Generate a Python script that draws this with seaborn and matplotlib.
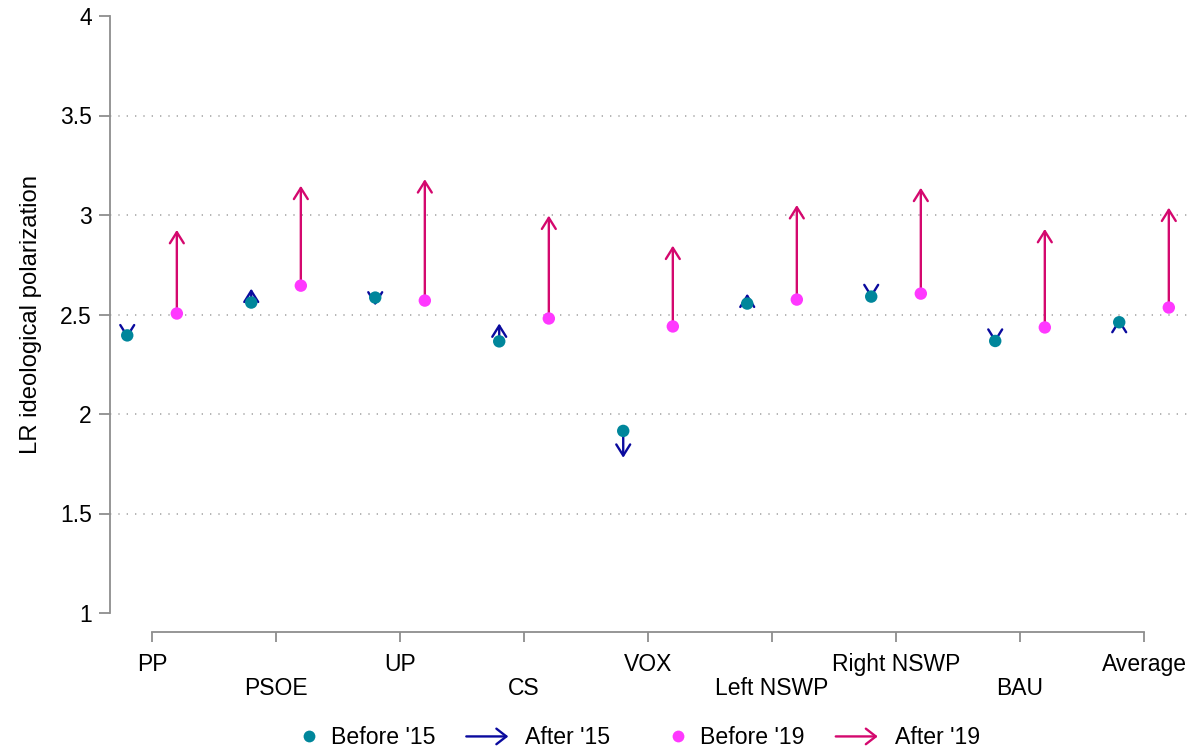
import matplotlib
matplotlib.use("Agg")
import matplotlib.pyplot as plt
import seaborn as sns
import numpy as np
import pandas as pd
from matplotlib.lines import Line2D
from matplotlib.patches import FancyArrowPatch
from matplotlib.legend_handler import HandlerBase

# ---------------- data ----------------
categories = ["PP", "PSOE", "UP", "CS", "VOX", "Left NSWP", "Right NSWP", "BAU", "Average"]
before15 = [2.395, 2.56, 2.585, 2.365, 1.915, 2.555, 2.59, 2.367, 2.461]
after15 = [2.38, 2.63, 2.545, 2.455, 1.78, 2.605, 2.582, 2.358, 2.478]
before19 = [2.505, 2.645, 2.57, 2.48, 2.44, 2.575, 2.605, 2.435, 2.535]
after19 = [2.925, 3.147, 3.18, 2.997, 2.846, 3.05, 3.137, 2.93, 3.037]
yticks = [1, 1.5, 2, 2.5, 3, 3.5, 4]
ytick_labels = ["1", "1.5", "2", "2.5", "3", "3.5", "4"]
legend_labels = ["Before '15", "After '15", "Before '19", "After '19"]

# ---------------- style ----------------
C_TEAL = "#00869B"
C_NAVY = "#0A0A9E"
C_MAG = "#FF38FF"
C_CRIM = "#D4086E"
C_SPINE = "#8E8E8E"

sns.set_style("white")
plt.rcParams["font.family"] = ["Liberation Sans", "DejaVu Sans"]
plt.rcParams["text.color"] = "black"
plt.rcParams["axes.labelcolor"] = "black"
plt.rcParams["xtick.color"] = "black"
plt.rcParams["ytick.color"] = "black"
FS = 16.5
LFS = 16.6

fig = plt.figure(figsize=(11.92, 7.5), dpi=100)
ax = fig.add_axes([110 / 1192, 1 - 613 / 750, 1 - 110 / 1192, (613 - 16) / 750])

pos = np.arange(len(categories))
off = 0.2
df15 = pd.DataFrame({"x": pos - off, "y": before15})
df19 = pd.DataFrame({"x": pos + off, "y": before19})

arrow_style = "->,head_length=0.4,head_width=0.25"
for x, b, a in zip(pos - off, before15, after15):
    ax.annotate("", xy=(x, a), xytext=(x, b),
                arrowprops=dict(arrowstyle=arrow_style, color=C_NAVY, lw=1.7,
                                shrinkA=0, shrinkB=0, mutation_scale=20),
                zorder=3)
for x, b, a in zip(pos + off, before19, after19):
    ax.annotate("", xy=(x, a), xytext=(x, b),
                arrowprops=dict(arrowstyle=arrow_style, color=C_CRIM, lw=1.7,
                                shrinkA=0, shrinkB=0, mutation_scale=20),
                zorder=3)

sns.scatterplot(data=df15, x="x", y="y", color=C_TEAL, s=80, edgecolor="none",
                zorder=5, ax=ax, legend=False)
sns.scatterplot(data=df19, x="x", y="y", color=C_MAG, s=80, edgecolor="none",
                zorder=5, ax=ax, legend=False)

# ---------------- axes ----------------
ax.set_xlim(-0.339, 8.387)
ax.set_ylim(1, 4)

for s in ["top", "right"]:
    ax.spines[s].set_visible(False)
ax.spines["left"].set_bounds(1, 4)
ax.spines["bottom"].set_bounds(0, 8)
ax.spines["bottom"].set_position(("outward", 13.5))
for s in ["left", "bottom"]:
    ax.spines[s].set_color(C_SPINE)
    ax.spines[s].set_linewidth(1.3)
ax.tick_params(axis="y", direction="out", length=8, width=1.3, color=C_SPINE,
               pad=5, left=True, labelsize=FS, labelcolor="black")
ax.tick_params(axis="x", direction="out", length=7.5, width=1.3, color=C_SPINE,
               pad=8, bottom=True, labelsize=FS, labelcolor="black")

ax.set_yticks(yticks)
ax.set_yticklabels(ytick_labels, fontsize=FS)
ax.set_xticks(pos)
xl = [c if i % 2 == 0 else "\n" + c for i, c in enumerate(categories)]
ax.set_xticklabels(xl, fontsize=FS, linespacing=1.05)
ax.set_xlabel("")
ax.set_ylabel("LR ideological polarization", fontsize=17.2, labelpad=13)

ax.grid(False)
ax.yaxis.grid(True, linestyle=(0, (0.8, 4.2)), color="#a8a8a8", lw=1.2)
gl = ax.get_ygridlines()
gl[0].set_visible(False)
gl[-1].set_visible(False)


# ---------------- legend ----------------
ARROW_LEN_PT = 42 * 72 / 100  # visible arrow key length


class ArrowHandler(HandlerBase):
    def create_artists(self, legend, orig_handle, xdescent, ydescent, width, height, fontsize, trans):
        y = height / 2 - ydescent
        x1 = -xdescent + width
        arr = FancyArrowPatch((x1 - ARROW_LEN_PT, y), (x1, y),
                              arrowstyle="->,head_length=0.45,head_width=0.35",
                              mutation_scale=16, color=orig_handle.get_color(),
                              lw=1.7, shrinkA=0, shrinkB=0, transform=trans)
        return [arr]


class DotHandler(HandlerBase):
    def create_artists(self, legend, orig_handle, xdescent, ydescent, width, height, fontsize, trans):
        y = height / 2 - ydescent
        ln = Line2D([-xdescent + width - 3.6], [y], marker="o", ls="", markersize=8.5,
                    markeredgewidth=0, color=orig_handle.get_color(), transform=trans)
        return [ln]


h1 = Line2D([], [], color=C_TEAL)
h2 = Line2D([], [], color=C_NAVY)
h3 = Line2D([], [], color=C_MAG)
h4 = Line2D([], [], color=C_CRIM)
fig.legend([h1, h2, h3, h4], legend_labels, loc="center",
           bbox_to_anchor=(640 / 1192, 1 - 738 / 750), ncol=4, frameon=False,
           fontsize=LFS, handlelength=0.6, handletextpad=0.74, columnspacing=2.56,
           handler_map={h1: DotHandler(), h3: DotHandler(),
                        h2: ArrowHandler(), h4: ArrowHandler()})

fig.savefig("out.png", dpi=100)
